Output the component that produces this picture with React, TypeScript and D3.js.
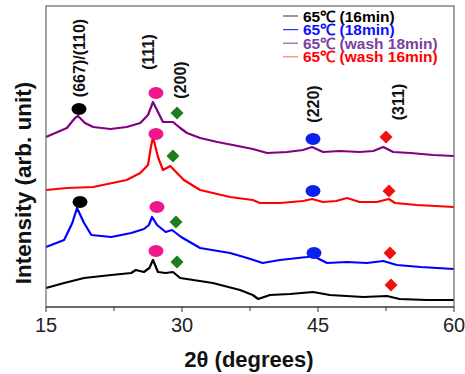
import * as d3 from "d3";

// 2theta (deg), intensity (arb. offset units)
const black16: [number, number][] = [
  [15, 19], [17, 24], [19.2, 29], [22.2, 32], [24.4, 34], [24.9, 37], [25.8, 35], [26.4, 39],
  [26.8, 47], [27.35, 35], [28.2, 34], [29, 35], [29.8, 29], [33.4, 24], [36.4, 17], [37.8, 12],
  [38.4, 8], [39.7, 12], [41.9, 13], [44.45, 15], [46.3, 12], [50, 10], [52.6, 11], [54, 8],
  [57, 7], [60, 7],
];
const blue18: [number, number][] = [
  [15, 60], [17, 67], [17.9, 84], [18.42, 99], [19.2, 84], [20, 72], [22.2, 70], [24.4, 74],
  [25.8, 78], [26.35, 82], [26.7, 90], [27.25, 82], [28.2, 75], [28.9, 77], [29.9, 70],
  [32, 59], [35.3, 54], [37.2, 49], [38.9, 44], [40.8, 47], [43.8, 50], [44.45, 51],
  [46, 44], [48.2, 45], [50.4, 44], [52.2, 46], [53.7, 42], [56.3, 40], [60, 38],
];
const red16w: [number, number][] = [
  [15, 117], [17.3, 119], [20.2, 120], [23.9, 127], [25.4, 134], [26.25, 142], [26.57, 160],
  [26.8, 170], [27.35, 150], [27.9, 137], [28.7, 141], [29.45, 134], [30.2, 127], [32, 117],
  [35.3, 110], [37.8, 107], [38.6, 104], [40.8, 104], [43.35, 106], [44.35, 108], [45.55, 105],
  [47, 106], [48.2, 109], [49.6, 105], [51.5, 105], [52.8, 108], [53.5, 104], [55.9, 102], [60, 100],
];
const purple18w: [number, number][] = [
  [15, 170], [17.3, 179], [18.2, 189], [18.53, 191], [19.3, 184], [20.2, 180], [22.1, 178],
  [23.9, 180], [25.4, 184], [26.25, 192], [26.8, 205], [27.35, 195], [27.9, 185], [29, 185],
  [29.8, 179], [30.55, 174], [32, 169], [33.9, 165], [35.6, 162], [37.8, 158], [39.4, 154],
  [41.6, 155], [43.35, 157], [44.35, 160], [45.55, 155], [47.4, 156], [49.6, 155], [51.1, 156],
  [52.2, 160], [53.3, 155], [55.2, 154], [57.7, 152], [60, 151],
];

const seriesData = [black16, blue18, red16w, purple18w];
const seriesColors = ["#000000", "#0000ff", "#ff0000", "#800080"];
const legendNames = ["65℃ (16min)", "65℃ (18min)", "65℃ (wash 18min)", "65℃ (wash 16min)"];
const legendTextColors = ["#000000", "#1010ff", "#7b3fa0", "#ff0000"];
const legendLineColors = ["#555555", "#3030ff", "#8a5bb8", "#f08080"];

// peak markers
const blackDots: [number, number][] = [[18.64, 198], [18.75, 105]];
const pinkDots: [number, number][] = [[27.13, 214], [27.13, 173], [27.24, 100], [27.13, 56]];
const greenDiamonds: [number, number][] = [[29.45, 194], [29.0, 151], [29.34, 85], [29.45, 45]];
const blueDots: [number, number][] = [[44.45, 168], [44.45, 116], [44.56, 54]];
const redDiamonds: [number, number][] = [[52.5, 170], [52.83, 116], [52.94, 54], [53.05, 22]];

const peakLabels = ["(667)/(110)", "(111)", "(200)", "(220)", "(311)"];
const peakLabelPos: [number, number][] = [[18.64, 249], [26.25, 255], [29.78, 227], [44.45, 203], [53.8, 205]];

const xTicks = [15, 30, 45, 60];
const xMinorTicks = [22.5, 37.5, 52.5];

const font = "'Liberation Sans', Arial, sans-serif";

export default function App() {
  const width = 465;
  const height = 374;
  const margin = { top: 6, right: 11, bottom: 67, left: 46 };

  const x = d3.scaleLinear().domain([15, 60]).range([margin.left, width - margin.right]);
  const y = d3.scaleLinear().domain([0, 301]).range([height - margin.bottom, margin.top]);

  const line = d3.line<[number, number]>()
    .x(d => x(d[0]))
    .y(d => y(d[1]));

  const diamond = (cx: number, cy: number, s: number) =>
    `M${cx},${cy - s}L${cx + s},${cy}L${cx},${cy + s}L${cx - s},${cy}Z`;

  const bottom = height - margin.bottom;

  return (
    <svg width={width} height={height} style={{ position: "absolute", left: 0, top: 0 }}>
      <rect width={width} height={height} fill="#fff" />

      {/* traces */}
      {seriesData.map((s, i) => (
        <path key={i} d={line(s) ?? ""} fill="none" stroke={seriesColors[i]}
          strokeWidth={2.2} strokeLinejoin="round" />
      ))}

      {/* markers */}
      {blackDots.map((d, i) => (
        <ellipse key={"k" + i} cx={x(d[0])} cy={y(d[1])} rx={7.5} ry={6} fill="#000" />
      ))}
      {pinkDots.map((d, i) => (
        <ellipse key={"p" + i} cx={x(d[0])} cy={y(d[1])} rx={7.5} ry={6} fill="#f0168c" />
      ))}
      {blueDots.map((d, i) => (
        <ellipse key={"b" + i} cx={x(d[0])} cy={y(d[1])} rx={7.5} ry={6} fill="#0a22f0" />
      ))}
      {greenDiamonds.map((d, i) => (
        <path key={"g" + i} d={diamond(x(d[0]), y(d[1]), 6.5)} fill="#1d7d1d" />
      ))}
      {redDiamonds.map((d, i) => (
        <path key={"r" + i} d={diamond(x(d[0]), y(d[1]), 6.5)} fill="#f01010" />
      ))}

      {/* peak labels, written upwards */}
      {peakLabels.map((t, i) => {
        const cx = Math.round(x(peakLabelPos[i][0]) + 6);
        const cy = Math.round(y(peakLabelPos[i][1]));
        return (
          <text key={t} x={cx} y={cy} transform={`rotate(-90 ${cx} ${cy})`} textAnchor="middle"
            fontFamily={font} fontWeight="bold" fontSize={16} fill="#111">{t}</text>
        );
      })}

      {/* frame */}
      <rect x={margin.left} y={margin.top} width={width - margin.left - margin.right}
        height={bottom - margin.top} fill="none" stroke="#666" strokeWidth={1.2} />
      <line x1={margin.left} x2={width - margin.right} y1={bottom} y2={bottom} stroke="#333" strokeWidth={1.2} />

      {/* x ticks */}
      {xTicks.map(t => (
        <g key={t}>
          <line x1={x(t)} x2={x(t)} y1={bottom} y2={bottom + 5} stroke="#333" />
          <text x={x(t)} y={bottom + 25} textAnchor="middle" fontFamily={font} fontSize={20} fill="#222">{t}</text>
        </g>
      ))}
      {xMinorTicks.map(t => (
        <line key={t} x1={x(t)} x2={x(t)} y1={bottom} y2={bottom + 4} stroke="#333" />
      ))}

      {/* axis titles */}
      <text x={249} y={367} textAnchor="middle" fontFamily={font} fontWeight="bold" fontSize={22} fill="#111">2θ (degrees)</text>
      <text x={31} y={183} transform="rotate(-90 31 183)" textAnchor="middle" fontFamily={font}
        fontWeight="bold" fontSize={22.5} fill="#111">Intensity (arb. unit)</text>

      {/* legend */}
      {legendNames.map((n, i) => (
        <g key={n} transform={`translate(283 ${16 + i * 13.6})`}>
          <line x1={0} x2={15} y1={0} y2={0} stroke={legendLineColors[i]} strokeWidth={1.2} />
          <text x={20} y={5.5} fontFamily={font} fontWeight="bold" fontSize={15.5} fill={legendTextColors[i]}>{n}</text>
        </g>
      ))}
    </svg>
  );
}
